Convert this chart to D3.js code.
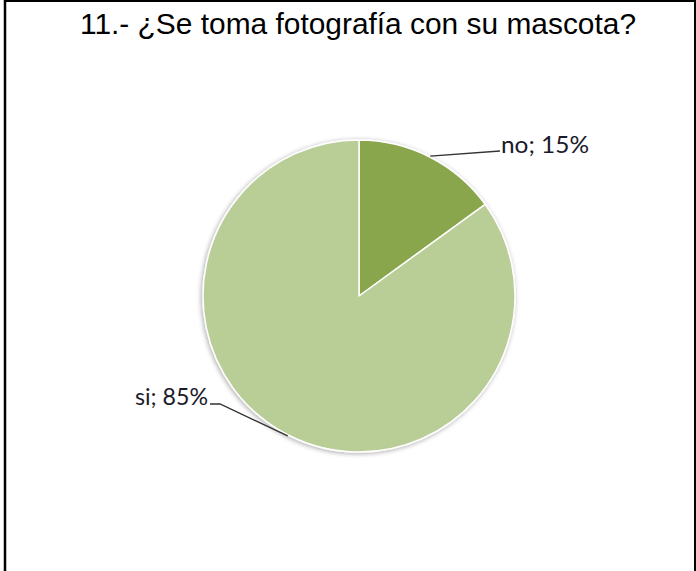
<!DOCTYPE html>
<html>
<head>
<meta charset="utf-8">
<script src="https://cdn.jsdelivr.net/npm/d3@7"></script>
<style>
  html, body { margin: 0; padding: 0; background: #fff; }
  svg { display: block; }
</style>
</head>
<body>
<script>
// Survey answers, in drawing order (clockwise from 12 o'clock)
const categories = ["no", "si"];
const values = [15, 85];
const sliceColors = ["#8aa64d", "#b9cd96"];
const title = "11.- ¿Se toma fotografía con su mascota?";

const W = 696, H = 571;
const cx = 359, cy = 296, R = 156;

const svg = d3.select("body").append("svg")
  .attr("width", W).attr("height", H);

// frame
svg.append("rect").attr("x", 0).attr("y", 0).attr("width", W).attr("height", H).attr("fill", "#fff");
svg.append("line").attr("x1", 5).attr("x2", 5).attr("y1", 0).attr("y2", H)
  .attr("stroke", "#000").attr("stroke-width", 2.5);
svg.append("line").attr("x1", 4).attr("x2", W).attr("y1", 1).attr("y2", 1)
  .attr("stroke", "#000").attr("stroke-width", 2);
svg.append("line").attr("x1", W - 1).attr("x2", W - 1).attr("y1", 0).attr("y2", H)
  .attr("stroke", "#000").attr("stroke-width", 2);

// title
svg.append("text")
  .attr("x", 358).attr("y", 34)
  .attr("text-anchor", "middle")
  .attr("font-family", "'Liberation Sans', Arial, sans-serif")
  .attr("font-size", 30)
  .attr("textLength", 556)
  .attr("lengthAdjust", "spacingAndGlyphs")
  .attr("fill", "#000")
  .text(title);

const defs = svg.append("defs");
const shadow = defs.append("filter").attr("id", "pieShadow")
  .attr("x", "-20%").attr("y", "-20%").attr("width", "140%").attr("height", "140%");
shadow.append("feGaussianBlur").attr("in", "SourceAlpha").attr("stdDeviation", 2.5).attr("result", "b");
shadow.append("feOffset").attr("in", "b").attr("dx", -1).attr("dy", 1).attr("result", "o");
shadow.append("feComponentTransfer").attr("in", "o").attr("result", "s")
  .append("feFuncA").attr("type", "linear").attr("slope", 0.35);
const merge = shadow.append("feMerge");
merge.append("feMergeNode").attr("in", "s");
merge.append("feMergeNode").attr("in", "SourceGraphic");

const data = categories.map((c, i) => ({ cat: c, value: values[i], color: sliceColors[i] }));
const pie = d3.pie().sort(null).value(d => d.value);
const arcs = pie(data);
const arc = d3.arc().innerRadius(0).outerRadius(R);

const g = svg.append("g").attr("transform", `translate(${cx},${cy})`);
g.append("g").attr("filter", "url(#pieShadow)")
  .selectAll("path").data(arcs).join("path")
  .attr("d", arc)
  .attr("fill", d => d.data.color)
  .attr("stroke", "#fff")
  .attr("stroke-width", 1.5)
  .attr("stroke-linejoin", "round");

// data labels with leader lines
const labelSpots = {
  no: { elbow: [141, -145], text: [142, -143], anchor: "start", len: 88 },
  si: { elbow: [-139, 108], knee: [-149, 108], text: [-151, 109], anchor: "end", len: 73 }
};
const fmt = d => `${d.data.cat}; ${Math.round(d.value / d3.sum(values) * 100)}%`;

arcs.forEach(d => {
  const mid = (d.startAngle + d.endAngle) / 2;
  const start = [Math.sin(mid) * (R + 1), -Math.cos(mid) * (R + 1)];
  const s = labelSpots[d.data.cat];
  const pts = [start, s.elbow];
  if (s.knee) pts.push(s.knee);
  g.append("path")
    .attr("d", d3.line()(pts))
    .attr("fill", "none")
    .attr("stroke", "#333")
    .attr("stroke-width", 1.3);
  g.append("text")
    .attr("x", s.text[0]).attr("y", s.text[1])
    .attr("text-anchor", s.anchor)
    .attr("font-family", "Lato, 'Open Sans', sans-serif")
    .attr("font-size", 23)
    .attr("textLength", s.len)
    .attr("lengthAdjust", "spacingAndGlyphs")
    .attr("fill", "#1a1a2a")
    .text(fmt(d));
});
</script>
</body>
</html>
